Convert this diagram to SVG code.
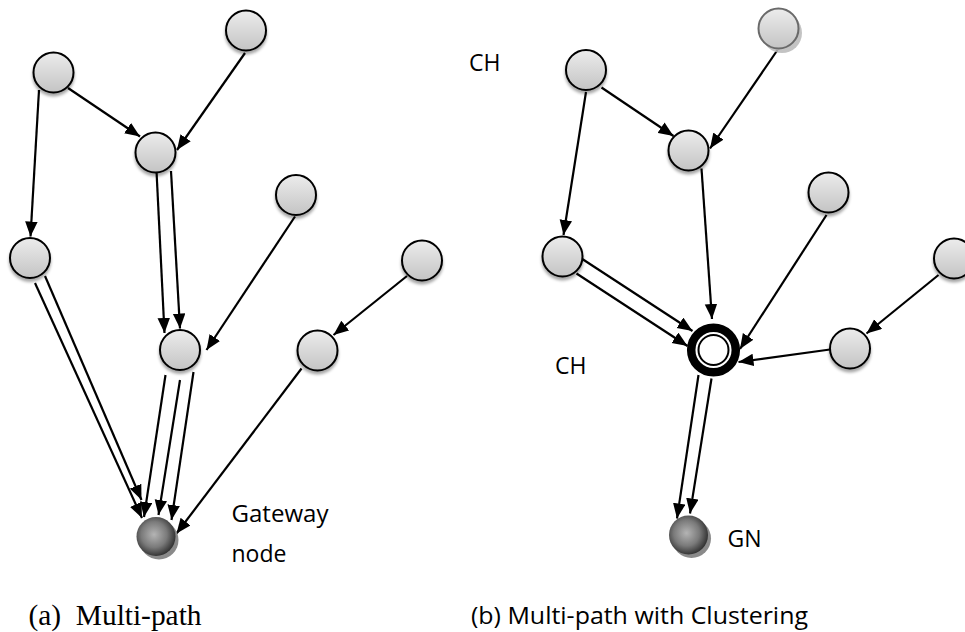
<svg xmlns="http://www.w3.org/2000/svg" width="965" height="632" viewBox="0 0 965 632">
  <defs>
    <linearGradient id="nodeFill" x1="0" y1="0" x2="0" y2="1">
      <stop offset="0" stop-color="#ececec"/>
      <stop offset="1" stop-color="#c4c4c4"/>
    </linearGradient>
    <radialGradient id="gwFill" cx="0.45" cy="0.45" r="0.6">
      <stop offset="0" stop-color="#b4b4b4"/>
      <stop offset="0.55" stop-color="#7a7a7a"/>
      <stop offset="1" stop-color="#262626"/>
    </radialGradient>
    <filter id="shadow" x="-40%" y="-40%" width="180%" height="190%">
      <feDropShadow dx="0" dy="3" stdDeviation="1.8" flood-color="#000" flood-opacity="0.35"/>
    </filter>
    <marker id="arrow" markerUnits="userSpaceOnUse" markerWidth="16" markerHeight="13" refX="15" refY="6.25" orient="auto">
      <path d="M0,0 L15,6.25 L0,12.5 z" fill="#000"/>
    </marker>
    <style>
      .node { fill: url(#nodeFill); stroke: #000; stroke-width: 2; filter: url(#shadow); }
      .edge { stroke: #000; stroke-width: 2.2; fill: none; marker-end: url(#arrow); }
      .lbl { font-family: "Open Sans", "Liberation Sans", sans-serif; font-size: 23px; fill: #000; }
      .cap-serif { font-family: "Liberation Serif", serif; font-size: 29px; fill: #000; white-space: pre; }
    </style>
  </defs>

  <!-- connectors -->
  <g id="connectors">
    <!-- (a) multi-path -->
    <line class="edge" x1="68" y1="88" x2="140" y2="136.5"/>
    <line class="edge" x1="245" y1="53" x2="177" y2="150"/>
    <line class="edge" x1="39" y1="90" x2="30.5" y2="236.5"/>
    <line class="edge" x1="156.5" y1="171" x2="164.5" y2="333"/>
    <line class="edge" x1="171" y1="171" x2="180" y2="328.5"/>
    <line class="edge" x1="295" y1="216.5" x2="206.5" y2="350"/>
    <line class="edge" x1="407" y1="276" x2="333.5" y2="335"/>
    <line class="edge" x1="35" y1="283" x2="142" y2="518"/>
    <line class="edge" x1="45" y1="276" x2="141.5" y2="500"/>
    <line class="edge" x1="165.5" y1="375" x2="144" y2="517"/>
    <line class="edge" x1="180" y1="380" x2="158.5" y2="515"/>
    <line class="edge" x1="193.5" y1="372" x2="171.5" y2="520"/>
    <line class="edge" x1="301.5" y1="368.5" x2="176.5" y2="533.5"/>

    <!-- (b) multi-path with clustering -->
    <line class="edge" x1="601.5" y1="87.5" x2="673.5" y2="136"/>
    <line class="edge" x1="777.5" y1="50" x2="710" y2="148.5"/>
    <line class="edge" x1="586" y1="92" x2="563.5" y2="235"/>
    <line class="edge" x1="701.5" y1="168.5" x2="712" y2="319"/>
    <line class="edge" x1="826.5" y1="215" x2="740" y2="349"/>
    <line class="edge" x1="938.5" y1="275" x2="866.5" y2="333.5"/>
    <line class="edge" x1="830" y1="349.5" x2="738.5" y2="362"/>
    <line class="edge" x1="581.5" y1="258.5" x2="692.5" y2="331"/>
    <line class="edge" x1="576.5" y1="273.5" x2="687.5" y2="346"/>
    <line class="edge" x1="698.5" y1="375" x2="677" y2="518.5"/>
    <line class="edge" x1="711.5" y1="378.5" x2="690" y2="513.5"/>
  </g>

  <!-- (a) nodes -->
  <g id="a-n1"><circle class="node" cx="246" cy="30.5" r="20"/></g>
  <g id="a-n2"><circle class="node" cx="53.5" cy="72.5" r="20"/></g>
  <g id="a-n3"><circle class="node" cx="155.5" cy="152.5" r="20"/></g>
  <g id="a-n4"><circle class="node" cx="296" cy="195" r="20"/></g>
  <g id="a-n5"><circle class="node" cx="30" cy="258" r="20"/></g>
  <g id="a-n6"><circle class="node" cx="422" cy="260.5" r="20"/></g>
  <g id="a-n7"><circle class="node" cx="180" cy="350" r="20"/></g>
  <g id="a-n8"><circle class="node" cx="317.5" cy="350.5" r="20"/></g>
  <g id="a-gateway">
    <circle cx="159" cy="540" r="19.5" fill="#8a8a8a"/>
    <circle cx="156" cy="536.5" r="19.5" fill="url(#gwFill)"/>
    <text class="lbl" x="231.5" y="521.5" textLength="97" lengthAdjust="spacingAndGlyphs">Gateway</text>
    <text class="lbl" x="231.5" y="561.5">node</text>
  </g>

  <!-- (b) nodes -->
  <g id="b-n1">
    <circle cx="782" cy="33" r="20" fill="#b8b8b8" opacity="0.85"/>
    <circle cx="778.5" cy="28.5" r="20" fill="url(#nodeFill)" stroke="#6a6a6a" stroke-width="2"/>
  </g>
  <g id="b-n2"><circle class="node" cx="586" cy="70" r="20"/></g>
  <g id="b-n3"><circle class="node" cx="688.5" cy="150.5" r="20"/></g>
  <g id="b-n4"><circle class="node" cx="828.5" cy="192.5" r="20"/></g>
  <g id="b-n5"><circle class="node" cx="562.5" cy="256.5" r="20"/></g>
  <g id="b-n6"><circle class="node" cx="954" cy="258.5" r="20"/></g>
  <g id="b-n7"><circle class="node" cx="850" cy="348.5" r="20"/></g>
  <g id="b-ch">
    <circle cx="713.5" cy="350" r="22.3" fill="#fff" stroke="#000" stroke-width="8.5"/>
    <circle cx="713.5" cy="350" r="15" fill="#fff" stroke="#000" stroke-width="2"/>
  </g>
  <g id="b-gn">
    <circle cx="691.5" cy="538.5" r="19.5" fill="#8a8a8a"/>
    <circle cx="688.5" cy="535" r="19.5" fill="url(#gwFill)"/>
    <text class="lbl" x="727.5" y="546.5">GN</text>
  </g>

  <!-- cluster-head labels -->
  <text class="lbl" x="469" y="71">CH</text>
  <text class="lbl" x="555" y="374">CH</text>

  <!-- captions -->
  <text class="cap-serif" x="28.5" y="625" textLength="173" lengthAdjust="spacingAndGlyphs">(a)  Multi-path</text>
  <text class="lbl" x="471" y="623.5" font-size="25" textLength="337" lengthAdjust="spacingAndGlyphs">(b) Multi-path with Clustering</text>
</svg>
